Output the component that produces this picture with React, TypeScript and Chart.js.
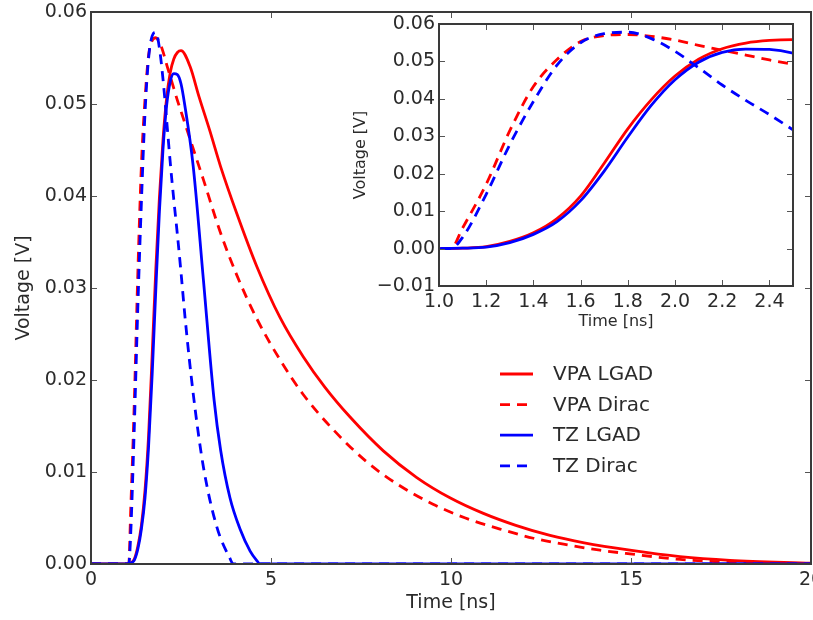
import React, { useEffect, useRef } from "react";
import { Chart, registerables } from "chart.js";

Chart.register(...registerables);

// ---------------- data ----------------
const seriesLabels = ["VPA LGAD", "VPA Dirac", "TZ LGAD", "TZ Dirac"];
const seriesColors = ["#ff0000", "#ff0000", "#0000ff", "#0000ff"];
const seriesDashed = [false, true, false, true];

const vpaLgadTime = [0, 1.0, 1.1, 1.2, 1.3, 1.4, 1.5, 1.6, 1.7, 1.8, 1.9, 2.0, 2.1, 2.2, 2.3, 2.4, 2.5, 2.75, 3.0, 3.3, 3.6, 4.05, 4.6, 5.25, 5.9, 6.5, 7.19, 8.12, 9.05, 9.97, 10.9, 11.8, 12.75, 13.7, 14.97, 16.36, 17.75, 20];
const vpaLgadVolt = [0, 0, 0.0001, 0.0005, 0.0019, 0.0042, 0.008, 0.014, 0.0228, 0.032, 0.0398, 0.0461, 0.0506, 0.0534, 0.0549, 0.0556, 0.0558, 0.0541, 0.0508, 0.0471, 0.0432, 0.0381, 0.0324, 0.0268, 0.0225, 0.0192, 0.016, 0.0123, 0.0094, 0.0072, 0.0055, 0.0042, 0.0031, 0.0023, 0.0015, 0.0008, 0.0004, 0.0001];

const vpaDiracTime = [0, 1.05, 1.1, 1.2, 1.3, 1.4, 1.5, 1.6, 1.7, 1.8, 1.9, 2.0, 2.1, 2.2, 2.3, 2.4, 2.5, 2.8, 3.12, 3.58, 4.05, 4.6, 5.25, 5.9, 6.73, 7.66, 8.58, 9.5, 10.4, 11.36, 12.29, 13.2, 14.14, 14.97, 16.36, 17.75, 20];
const vpaDiracVolt = [0, 0, 0.0055, 0.0172, 0.0315, 0.0433, 0.0505, 0.0553, 0.0569, 0.0572, 0.0567, 0.0557, 0.0543, 0.053, 0.0517, 0.0504, 0.0492, 0.0456, 0.0418, 0.0362, 0.0314, 0.0267, 0.0222, 0.0184, 0.0146, 0.0111, 0.0085, 0.0065, 0.005, 0.0038, 0.0028, 0.0021, 0.0015, 0.0011, 0.0005, 0.0002, 0];

const tzLgadTime = [0, 1.0, 1.1, 1.2, 1.3, 1.4, 1.5, 1.6, 1.7, 1.8, 1.9, 2.0, 2.1, 2.2, 2.3, 2.4, 2.5, 2.6, 2.84, 3.12, 3.42, 3.6, 3.86, 4.14, 4.42, 4.6, 4.7, 20];
const tzLgadVolt = [0, 0, 0.0001, 0.0004, 0.0016, 0.0038, 0.0072, 0.0128, 0.0207, 0.0298, 0.0383, 0.0451, 0.0498, 0.0524, 0.0533, 0.0532, 0.0522, 0.05, 0.0432, 0.031, 0.0178, 0.0124, 0.0072, 0.0038, 0.0014, 0.0004, 0, 0];

const tzDiracTime = [0, 1.05, 1.1, 1.2, 1.3, 1.4, 1.5, 1.6, 1.7, 1.8, 1.9, 2.0, 2.1, 2.2, 2.3, 2.4, 2.5, 2.62, 2.84, 3.12, 3.49, 3.86, 3.95, 20];
const tzDiracVolt = [0, 0, 0.003, 0.0145, 0.0278, 0.0393, 0.049, 0.055, 0.0574, 0.0578, 0.0561, 0.0527, 0.0483, 0.0437, 0.0396, 0.0358, 0.0317, 0.0265, 0.0185, 0.0106, 0.0041, 0.0006, 0, 0];

const seriesTimes = [vpaLgadTime, vpaDiracTime, tzLgadTime, tzDiracTime];
const seriesVolts = [vpaLgadVolt, vpaDiracVolt, tzLgadVolt, tzDiracVolt];

const mainXTicks = [0, 5, 10, 15, 20];
const mainYTicks = [0, 0.01, 0.02, 0.03, 0.04, 0.05, 0.06];
const insetXTicks = [1.0, 1.2, 1.4, 1.6, 1.8, 2.0, 2.2, 2.4];
const insetYTicks = [-0.01, 0, 0.01, 0.02, 0.03, 0.04, 0.05, 0.06];

const xTitle = "Time [ns]";
const yTitle = "Voltage [V]";

// ---------------- styling ----------------
const FONT = "'DejaVu Sans', 'Liberation Sans', sans-serif";
const TEXT = "#2b2b2b";

function makeDatasets(lw: number) {
  return seriesLabels.map((label, i) => ({
    label,
    data: seriesTimes[i].map((t, j) => ({ x: t, y: seriesVolts[i][j] })),
    borderColor: seriesColors[i],
    backgroundColor: seriesColors[i],
    borderWidth: lw,
    borderDash: seriesDashed[i] ? [10, 7] : [],
    pointRadius: 0,
    fill: false,
    cubicInterpolationMode: "monotone" as const,
    order: seriesLabels.length - i,
  }));
}

const framePlugin = {
  id: "frame",
  beforeDatasetsDraw(chart: any, _a: any, o: any) {
    if (!o.background) return;
    const { ctx, chartArea: a } = chart;
    ctx.save();
    ctx.fillStyle = o.background;
    ctx.fillRect(a.left, a.top, a.right - a.left, a.bottom - a.top);
    ctx.restore();
  },
  afterDraw(chart: any, _a: any, o: any) {
    const { ctx, chartArea: a, scales } = chart;
    ctx.save();
    // inward ticks on all four sides
    ctx.strokeStyle = o.tickColor;
    ctx.lineWidth = 1;
    ctx.beginPath();
    for (const t of scales.x.ticks) {
      const p = Math.round(scales.x.getPixelForValue(t.value)) + 0.5;
      ctx.moveTo(p, a.bottom);
      ctx.lineTo(p, a.bottom - o.tickLen);
      ctx.moveTo(p, a.top);
      ctx.lineTo(p, a.top + o.tickLen);
    }
    for (const t of scales.y.ticks) {
      const p = Math.round(scales.y.getPixelForValue(t.value)) + 0.5;
      ctx.moveTo(a.left, p);
      ctx.lineTo(a.left + o.tickLen, p);
      ctx.moveTo(a.right, p);
      ctx.lineTo(a.right - o.tickLen, p);
    }
    ctx.stroke();
    // spines
    ctx.strokeStyle = o.spineColor;
    ctx.lineWidth = o.spineWidth;
    ctx.strokeRect(a.left, a.top, a.right - a.left, a.bottom - a.top);
    // axis titles
    ctx.fillStyle = TEXT;
    ctx.font = `${o.titleSize}px ${FONT}`;
    ctx.textAlign = "center";
    ctx.textBaseline = "middle";
    ctx.fillText(o.xTitle, (a.left + a.right) / 2, a.bottom + o.xTitleOffset);
    ctx.save();
    ctx.translate(o.yTitleX, (a.top + a.bottom) / 2);
    ctx.rotate(-Math.PI / 2);
    ctx.fillText(o.yTitle, 0, 0);
    ctx.restore();
    // legend
    if (o.legend) {
      const L = o.legend;
      ctx.font = `${L.size}px ${FONT}`;
      ctx.textAlign = "left";
      ctx.textBaseline = "middle";
      chart.data.datasets.forEach((ds: any, i: number) => {
        const y = L.y + i * L.gap;
        ctx.strokeStyle = ds.borderColor;
        ctx.lineWidth = ds.borderWidth;
        ctx.setLineDash(ds.borderDash || []);
        ctx.beginPath();
        ctx.moveTo(L.x, y);
        ctx.lineTo(L.x + L.len, y);
        ctx.stroke();
        ctx.setLineDash([]);
        ctx.fillStyle = TEXT;
        ctx.fillText(ds.label, L.x + L.len + L.textGap, y + 1);
      });
    }
    ctx.restore();
  },
};

function makeScale(
  min: number,
  max: number,
  ticks: number[],
  fmt: (v: number) => string,
  size: number,
  pad: number,
  fit: { width?: number; height?: number }
) {
  return {
    type: "linear" as const,
    min,
    max,
    grid: { display: false, drawTicks: false },
    border: { display: false },
    afterBuildTicks: (s: any) => {
      s.ticks = ticks.map((v) => ({ value: v }));
    },
    afterFit: (s: any) => {
      if (fit.width !== undefined) s.width = fit.width;
      if (fit.height !== undefined) s.height = fit.height;
      s.paddingLeft = 0;
      s.paddingRight = 0;
      s.paddingTop = 0;
      s.paddingBottom = 0;
    },
    ticks: {
      autoSkip: false,
      maxRotation: 0,
      minRotation: 0,
      padding: pad,
      color: TEXT,
      font: { family: FONT, size },
      callback: (v: any) => fmt(Number(v)),
    },
  };
}

const fmtY = (v: number) => (v < 0 ? "\u2212" + Math.abs(v).toFixed(2) : Math.abs(v).toFixed(2));

export default function App() {
  const mainRef = useRef<HTMLCanvasElement | null>(null);
  const insetRef = useRef<HTMLCanvasElement | null>(null);

  useEffect(() => {
    const main = new Chart(mainRef.current as HTMLCanvasElement, {
      type: "line",
      data: { datasets: makeDatasets(2.8) as any },
      plugins: [framePlugin as any],
      options: {
        responsive: false,
        animation: false,
        devicePixelRatio: 1,
        layout: { padding: { left: 0, top: 12, right: 2, bottom: 0 } },
        scales: {
          x: makeScale(0, 20, mainXTicks, (v) => String(Math.round(v)), 19, 5, { height: 56 }) as any,
          y: makeScale(0, 0.06, mainYTicks, fmtY, 19, 4, { width: 91 }) as any,
        },
        plugins: {
          legend: { display: false },
          tooltip: { enabled: false },
          frame: {
            tickColor: "#555",
            tickLen: 6,
            spineColor: "#3a3a3a",
            spineWidth: 2,
            titleSize: 19,
            xTitle,
            yTitle,
            xTitleOffset: 39,
            yTitleX: 24,
            legend: { x: 500, y: 374, gap: 30.6, len: 33, textGap: 20, size: 20 },
          },
        } as any,
      },
    });

    const inset = new Chart(insetRef.current as HTMLCanvasElement, {
      type: "line",
      data: { datasets: makeDatasets(2.8) as any },
      plugins: [framePlugin as any],
      options: {
        responsive: false,
        animation: false,
        devicePixelRatio: 1,
        layout: { padding: { left: 0, top: 24, right: 7, bottom: 0 } },
        scales: {
          x: makeScale(1.0, 2.5, insetXTicks, (v) => v.toFixed(1), 19, 5, { height: 54 }) as any,
          y: makeScale(-0.01, 0.06, insetYTicks, fmtY, 19, 4, { width: 99 }) as any,
        },
        plugins: {
          legend: { display: false },
          tooltip: { enabled: false },
          frame: {
            background: "#ffffff",
            tickColor: "#555",
            tickLen: 6,
            spineColor: "#3a3a3a",
            spineWidth: 2,
            titleSize: 16,
            xTitle,
            yTitle,
            xTitleOffset: 36,
            yTitleX: 21,
            legend: null,
          },
        } as any,
      },
    });

    return () => {
      main.destroy();
      inset.destroy();
    };
  }, []);

  return (
    <div style={{ position: "absolute", left: 0, top: 0, width: 813, height: 620, background: "#fff", overflow: "hidden" }}>
      <canvas ref={mainRef} width={813} height={620} style={{ position: "absolute", left: 0, top: 0, display: "block" }} />
      <canvas ref={insetRef} width={460} height={340} style={{ position: "absolute", left: 340, top: 0, display: "block" }} />
    </div>
  );
}
